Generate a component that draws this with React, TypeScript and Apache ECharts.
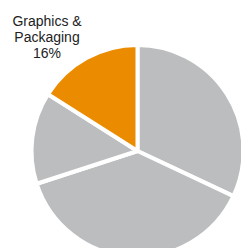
import React, { useEffect, useRef } from "react";
import * as echarts from "echarts";

const categories = ["Segment A", "Segment B", "Segment C", "Graphics & Packaging"];
const values = [32, 38, 14, 16];
const colors = ["#BCBDBF", "#BCBDBF", "#BCBDBF", "#EB8C00"];
const labelled = ["Graphics & Packaging"];

export default function App() {
  const ref = useRef<HTMLDivElement>(null);
  useEffect(() => {
    document.body.style.margin = "0";
    const chart = echarts.init(ref.current!, undefined, { renderer: "svg" });
    chart.setOption({
      animation: false,
      series: [
        {
          type: "pie",
          center: [137.5, 151],
          radius: [0, 106],
          startAngle: 90,
          clockwise: true,
          silent: true,
          itemStyle: { borderColor: "#ffffff", borderWidth: 4 },
          labelLine: { show: false },
          labelLayout: { x: 47, y: 37, align: "center", verticalAlign: "middle", hideOverlap: false },
          data: categories.map((c, i) => ({
            name: c,
            value: values[i],
            itemStyle: { color: colors[i] },
            label: {
              show: labelled.includes(c),
              position: "outside",
              overflow: "none",
              width: 120,
              formatter: () => "Graphics &\nPackaging\n" + String(values[i]) + "%",
              fontFamily: "Liberation Sans, Arial, sans-serif",
              fontSize: 14,
              lineHeight: 16,
              color: "#222222",
              align: "center",
            },
          })),
        },
      ],
    });
    return () => chart.dispose();
  }, []);
  return <div ref={ref} style={{ width: 241, height: 248 }} />;
}
